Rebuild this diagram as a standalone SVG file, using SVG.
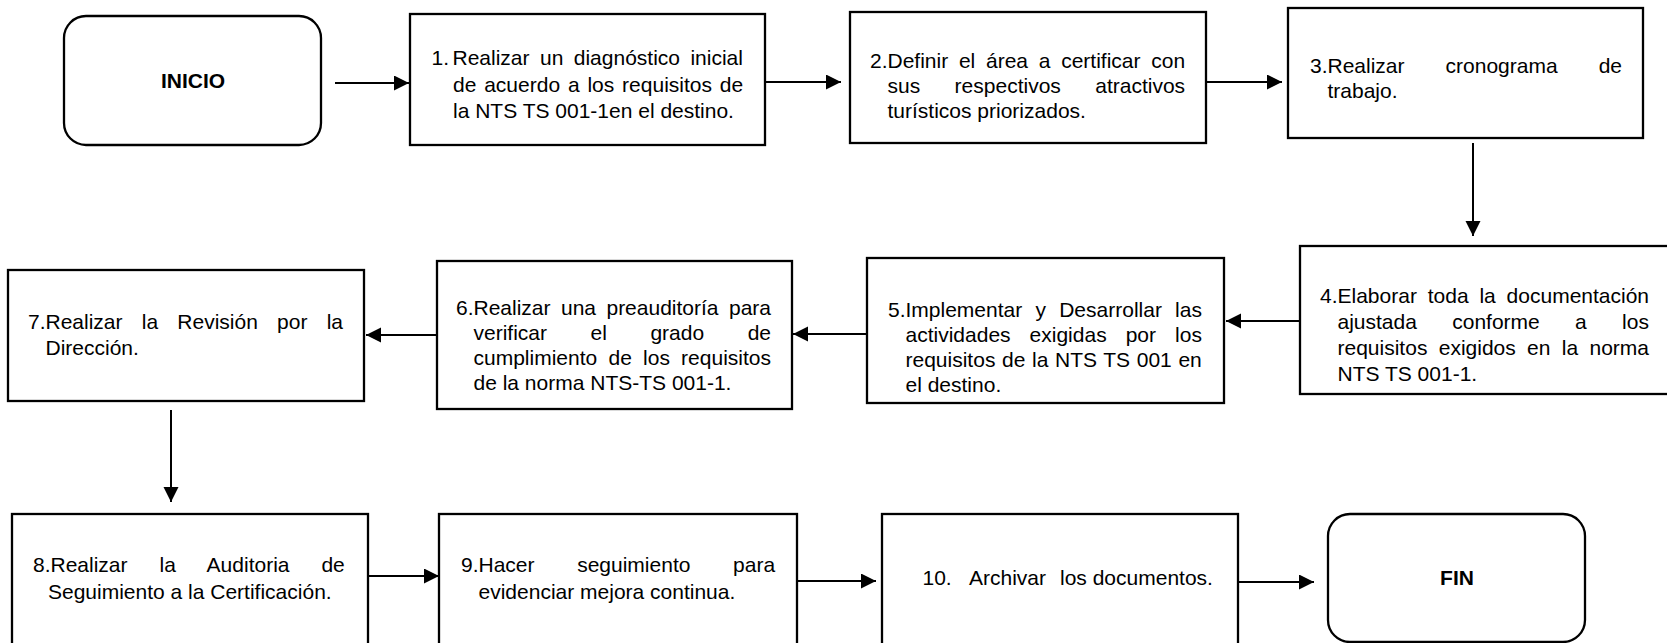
<svg xmlns="http://www.w3.org/2000/svg" width="1667" height="643" viewBox="0 0 1667 643">
<style>
  .box { fill: #ffffff; stroke: #000000; stroke-width: 2.3; }
  .term { fill: #ffffff; stroke: #000000; stroke-width: 2.3; }
  .t { font-family: "Liberation Sans", Arial, sans-serif; font-size: 21px; fill: #000000; }
  .b { font-family: "Liberation Sans", Arial, sans-serif; font-size: 21px; font-weight: bold; fill: #000000; text-anchor: middle; }
  .conn { stroke: #000000; stroke-width: 2; fill: none; marker-end: url(#arrow); }
</style>
<defs>
  <marker id="arrow" markerUnits="userSpaceOnUse" markerWidth="16" markerHeight="16" refX="15" refY="7.5" orient="auto">
    <path d="M0,0 L15,7.5 L0,15 Z" fill="#000000"/>
  </marker>
</defs>
<rect width="1667" height="643" fill="#ffffff"/>

<g id="connectors">
  <line class="conn" x1="335" y1="83" x2="409" y2="83"/>
  <line class="conn" x1="766" y1="82" x2="841" y2="82"/>
  <line class="conn" x1="1206" y1="82" x2="1282" y2="82"/>
  <line class="conn" x1="1473" y1="143" x2="1473" y2="236"/>
  <line class="conn" x1="1300" y1="321" x2="1226" y2="321"/>
  <line class="conn" x1="867" y1="334" x2="793" y2="334"/>
  <line class="conn" x1="437" y1="335" x2="366" y2="335"/>
  <line class="conn" x1="171" y1="410" x2="171" y2="502"/>
  <line class="conn" x1="368" y1="576" x2="439" y2="576"/>
  <line class="conn" x1="798" y1="581" x2="876" y2="581"/>
  <line class="conn" x1="1238" y1="582" x2="1314" y2="582"/>
</g>

<g id="inicio">
  <rect class="term" x="64" y="16" width="257" height="129" rx="22" ry="22"/>
  <text class="b" x="193" y="88">INICIO</text>
</g>

<g id="paso1">
  <rect class="box" x="410" y="14" width="355" height="131"/>
  <text class="t" y="65"><tspan x="431.5">1.</tspan><tspan x="452.5" word-spacing="4.6">Realizar un diagnóstico inicial</tspan></text>
  <text class="t" x="453" y="91.5" word-spacing="2.0">de acuerdo a los requisitos de</text>
  <text class="t" x="453" y="118">la NTS TS 001-1en el destino.</text>
</g>

<g id="paso2">
  <rect class="box" x="850" y="12" width="356" height="131"/>
  <text class="t" x="870" y="68" word-spacing="4.9">2.Definir el área a certificar con</text>
  <text class="t" x="887.5" y="93" word-spacing="28.6">sus respectivos atractivos</text>
  <text class="t" x="887.5" y="118">turísticos priorizados.</text>
</g>

<g id="paso3">
  <rect class="box" x="1288" y="8" width="355" height="130"/>
  <text class="t" x="1310" y="73" word-spacing="35.2">3.Realizar cronograma de</text>
  <text class="t" x="1327.5" y="98">trabajo.</text>
</g>

<g id="paso4">
  <rect class="box" x="1300" y="246" width="380" height="148"/>
  <text class="t" x="1320" y="303" word-spacing="5.0">4.Elaborar toda la documentación</text>
  <text class="t" x="1337.5" y="329" word-spacing="29.5">ajustada conforme a los</text>
  <text class="t" x="1337.5" y="355" word-spacing="5.5">requisitos exigidos en la norma</text>
  <text class="t" x="1337.5" y="381">NTS TS 001-1.</text>
</g>

<g id="paso5">
  <rect class="box" x="867" y="258" width="357" height="145"/>
  <text class="t" x="888" y="317" word-spacing="7.4">5.Implementar y Desarrollar las</text>
  <text class="t" x="905.5" y="342" word-spacing="13.2">actividades exigidas por los</text>
  <text class="t" x="905.5" y="367" word-spacing="0.8">requisitos de la NTS TS 001 en</text>
  <text class="t" x="905.5" y="392">el destino.</text>
</g>

<g id="paso6">
  <rect class="box" x="437" y="261" width="355" height="148"/>
  <text class="t" x="456" y="315" word-spacing="4.6">6.Realizar una preauditoría para</text>
  <text class="t" x="473.5" y="340" word-spacing="37.7">verificar el grado de</text>
  <text class="t" x="473.5" y="365" word-spacing="5.4">cumplimiento de los requisitos</text>
  <text class="t" x="473.5" y="390">de la norma NTS-TS 001-1.</text>
</g>

<g id="paso7">
  <rect class="box" x="8" y="270" width="356" height="131"/>
  <text class="t" x="28" y="329" word-spacing="13.4">7.Realizar la Revisión por la</text>
  <text class="t" x="45.5" y="355">Dirección.</text>
</g>

<g id="paso8">
  <rect class="box" x="12" y="514" width="356" height="140"/>
  <text class="t" x="33" y="572" word-spacing="26.1">8.Realizar la Auditoria de</text>
  <text class="t" x="48" y="599">Seguimiento a la Certificación.</text>
</g>

<g id="paso9">
  <rect class="box" x="439" y="514" width="358" height="140"/>
  <text class="t" x="461" y="572" word-spacing="36.8">9.Hacer seguimiento para</text>
  <text class="t" x="478.5" y="599">evidenciar mejora continua.</text>
</g>

<g id="paso10">
  <rect class="box" x="882" y="514" width="356" height="140"/>
  <text class="t" y="585"><tspan x="922.5">10.</tspan><tspan x="969">Archivar</tspan><tspan x="1060">los documentos.</tspan></text>
</g>

<g id="fin">
  <rect class="term" x="1328" y="514" width="257" height="128" rx="22" ry="22"/>
  <text class="b" x="1457" y="585">FIN</text>
</g>
</svg>
